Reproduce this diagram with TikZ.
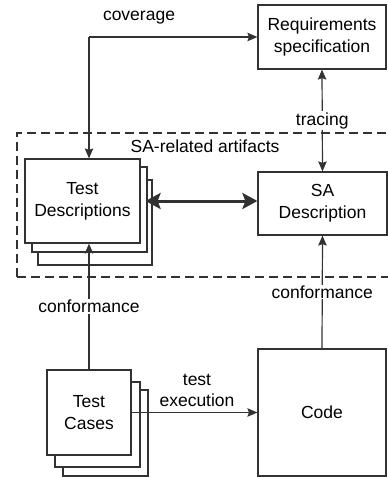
\documentclass[tikz,border=0pt]{standalone}
\usepackage{fontspec}
\setmainfont{Liberation Sans}
\usetikzlibrary{arrows.meta}
\definecolor{ink}{RGB}{50,50,50}
\tikzset{
  smalltip/.tip={Stealth[length=10pt,width=8.5pt,inset=1.5pt]},
  bighead/.tip={Stealth[length=15pt,width=16pt,inset=3pt]},
  box/.style={draw=ink, line width=1.2pt, fill=white, inner sep=0pt, align=center,
              font=\fontsize{17.5}{22}\selectfont},
  lbl/.style={inner sep=1pt, align=center, font=\fontsize{17.5}{21}\selectfont},
  onl/.style={lbl, fill=white},
  conn/.style={draw=ink, line width=1.2pt},
  tip/.style={-smalltip},
  bigtip/.style={bighead-bighead, line width=3pt}
}
\begin{document}
\begin{tikzpicture}[x=1pt,y=-1pt]
\useasboundingbox (0,0) rectangle (388,477);

% SA-related artifacts region
\draw[ink, line width=1.2pt, dash pattern=on 9pt off 5pt] (17,277) -- (17,133) -- (395,133);
\draw[ink, line width=1.2pt, dash pattern=on 9pt off 5pt] (17,277) -- (395,277);
\node[lbl] (sarel) at (205,146) {SA-related artifacts};

% boxes
\node[box, minimum width=128pt, minimum height=64pt] (req) at (322,37) {Requirements\\specification};
\node[box, minimum width=129pt, minimum height=63pt] (sa) at (322.5,203.5) {SA\\Description};
\node[box, minimum width=128pt, minimum height=127pt] (code) at (322,412.5) {Code};

% stacked test descriptions
\node[box, minimum width=114pt, minimum height=85pt] (td3) at (95,222.5) {};
\node[box, minimum width=115pt, minimum height=85pt] (td2) at (89.5,209.5) {};
\node[box, minimum width=115pt, minimum height=84pt] (td) at (82.5,201) {Test\\Descriptions};

% stacked test cases
\node[box, minimum width=85pt, minimum height=86pt] (tc3) at (105.5,433) {};
\node[box, minimum width=85pt, minimum height=85pt] (tc2) at (97.5,424.5) {};
\node[box, minimum width=84pt, minimum height=85pt] (tc) at (89,412.5) {Test\\Cases};

% connectors
\coordinate (tdtop) at (tc.north |- td.north);
\coordinate (tdbot) at (tc.north |- td.south);
\draw[conn, tip] (tdtop |- req.west) -- (req.west);
\draw[conn, tip] (tdtop |- req.west) -- (tdtop);
\node[lbl] (cov) at (139,18) {coverage};

\draw[conn, smalltip-smalltip] (req.south) -- node[onl] (trc) {tracing} (sa.north);

\draw[conn, bigtip] ([xshift=5pt]td.east) -- (td.east -| sa.west);

\draw[conn, tip] (tc.north) -- node[onl] (conf1) {conformance} (tdbot);
\draw[conn, tip] (code.north) -- node[onl] (conf2) {conformance} (sa.south);

\draw[conn, tip] (tc.east) -- (code.west);
\node[lbl] (exe) at (197,390) {test\\execution};
\end{tikzpicture}
\end{document}
